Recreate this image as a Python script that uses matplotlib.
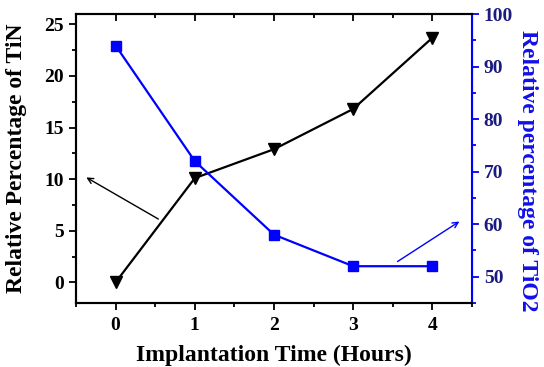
import numpy as np
import matplotlib
matplotlib.use('Agg')
import matplotlib.pyplot as plt
from matplotlib.ticker import MultipleLocator

hours = [0, 1, 2, 3, 4]
tin = [0, 10.1, 12.9, 16.8, 23.7]
tio2 = [94, 72, 58, 52, 52]

plt.rcParams['font.family'] = ['Liberation Serif', 'DejaVu Serif']
plt.rcParams['font.weight'] = 'bold'

fig = plt.figure(figsize=(5.44, 3.67), dpi=100)
ax = fig.add_axes([76/544, 1-303/367, (472-76)/544, (303-14)/367])
ax2 = ax.twinx()

ax.plot(hours, tin, color='black', marker='v', markersize=9, lw=1.6)
ax2.plot(hours, tio2, color='#0000ff', marker='s', markersize=6.5, lw=1.6)

ax.set_xlim(-0.5, 4.5)
ax.set_ylim(-2, 26)
ax2.set_ylim(45, 100)

ax.xaxis.set_major_locator(MultipleLocator(1))
ax.xaxis.set_minor_locator(MultipleLocator(0.5))
ax.yaxis.set_major_locator(MultipleLocator(5))
ax.yaxis.set_minor_locator(MultipleLocator(2.5))
ax2.yaxis.set_major_locator(MultipleLocator(10))
ax2.yaxis.set_minor_locator(MultipleLocator(5))

ax.tick_params(axis='x', which='both', direction='out', top=True, labelsize=14, width=1.3, pad=5)
ax.tick_params(axis='y', which='both', direction='out', labelsize=14, width=1.3)
ax.tick_params(which='major', length=5)
ax.tick_params(which='minor', length=3)
ax2.tick_params(axis='y', which='both', direction='out', colors='#0000ff', labelcolor='#1a1a80', labelsize=14, width=1.3)
ax2.tick_params(which='major', length=5)
ax2.tick_params(which='minor', length=3)

# top ticks point inward
for t in ax.xaxis.get_major_ticks() + ax.xaxis.get_minor_ticks():
    t.tick2line.set_marker(3)

for s in ['left', 'bottom', 'top']:
    ax.spines[s].set_linewidth(1.5)
for s in ax2.spines.values():
    s.set_linewidth(1.5)
ax2.spines['right'].set_color('#0000ff')

ax.set_xlabel('Implantation Time (Hours)', fontsize=17, fontweight='bold', labelpad=8)
ax.set_ylabel('Relative Percentage of TiN', fontsize=17, fontweight='bold', labelpad=13)
ax2.set_ylabel('Relative percentage of TiO2', fontsize=17, fontweight='bold',
               color='#1010e8', rotation=270, labelpad=18)
ax2.yaxis.label.set_y(0.457)

ax.annotate('', xy=(-0.4, 10.3), xytext=(0.57, 6.0),
            arrowprops=dict(arrowstyle='->', color='black', lw=1))
ax2.annotate('', xy=(4.37, 60.8), xytext=(3.53, 52.6),
             arrowprops=dict(arrowstyle='->', color='#0000ff', lw=1))

fig.savefig('out.png', dpi=100)
